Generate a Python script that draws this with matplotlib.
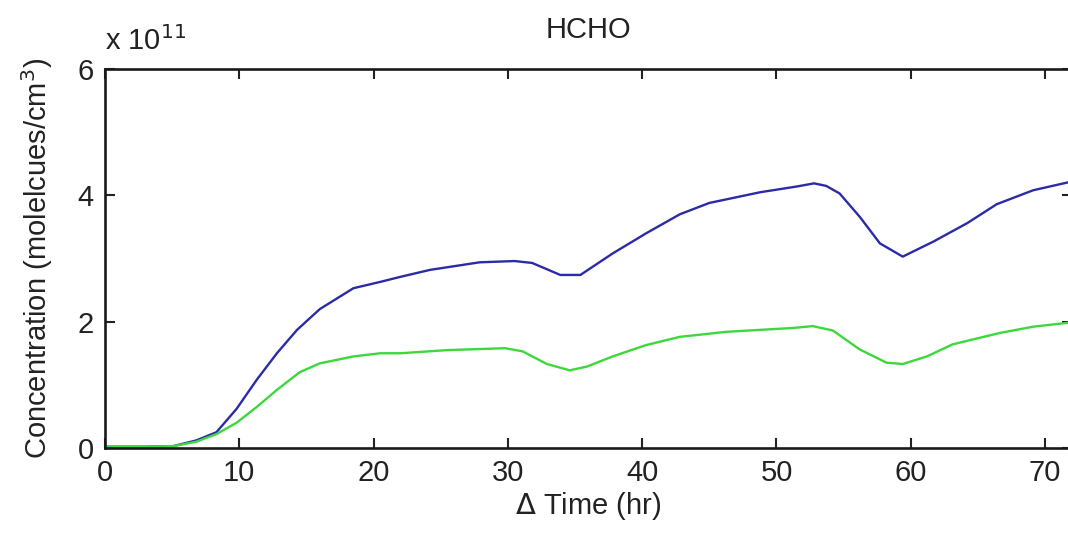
import numpy as np
import matplotlib.pyplot as plt

plt.rcParams['font.family'] = ['Liberation Sans', 'DejaVu Sans']

# time (hr) and HCHO concentration (x 1e11 molecules/cm3)
t_blue = [0, 3, 5.1, 6.8, 8.3, 9.8, 11.3, 12.8, 14.3, 16.0, 18.5, 20.5, 22.0,
          24.2, 27.9, 30.5, 31.8, 32.8, 33.9, 35.4, 37.8, 40.3, 42.8, 45.0, 48.8, 51.5,
          52.8, 53.7, 54.7, 56.2, 57.7, 59.4, 61.7, 64.2, 66.4, 69.1, 72]
c_blue = [0.02, 0.02, 0.03, 0.12, 0.25, 0.62, 1.08, 1.5, 1.87, 2.2, 2.53, 2.63, 2.71,
          2.82, 2.94, 2.96, 2.93, 2.84, 2.74, 2.74, 3.08, 3.4, 3.7, 3.88, 4.05, 4.14,
          4.19, 4.15, 4.03, 3.66, 3.24, 3.03, 3.27, 3.56, 3.86, 4.08, 4.22]

t_green = [0, 3, 5.1, 6.8, 8.3, 9.8, 11.3, 12.8, 14.5, 16.0, 18.5, 20.5, 22.0,
           25.5, 29.8, 31.1, 32.9, 34.6, 35.9, 37.8, 40.3, 42.8, 46.3, 51.2,
           52.7, 54.2, 56.2, 58.2, 59.4, 61.2, 63.1, 66.6, 69.1, 72]
c_green = [0.02, 0.02, 0.03, 0.1, 0.22, 0.4, 0.65, 0.92, 1.2, 1.34, 1.45, 1.5, 1.5,
           1.55, 1.58, 1.53, 1.33, 1.23, 1.29, 1.45, 1.63, 1.76, 1.84, 1.9,
           1.93, 1.86, 1.56, 1.35, 1.33, 1.45, 1.64, 1.82, 1.92, 1.99]

fig = plt.figure(figsize=(10.68, 5.48), dpi=100, facecolor='white')
ax = fig.add_axes([0.0983, 0.1825, 0.9054, 0.6915])

ax.plot(t_blue, c_blue, color='#2b2ba8', lw=1.7)
ax.plot(t_green, c_green, color='#3cd83c', lw=1.7)

ax.set_xlim(0, 72)
ax.set_ylim(0, 6)
ax.set_xticks(np.arange(0, 71, 10))
ax.set_yticks([0, 2, 4, 6])

ax.tick_params(direction='in', length=7, width=1.5, top=True, right=True,
               labelsize=21, pad=8, colors='#222222')
for s in ax.spines.values():
    s.set_linewidth(1.9)
    s.set_color('#1a1a1a')

ax.set_title('HCHO', fontsize=21, pad=22, color='#222222')
ax.set_xlabel(r'$\Delta$ Time (hr)', fontsize=21, labelpad=2, color='#222222')
ax.set_ylabel(r'Concentration (molelcues/cm$^3$)', fontsize=21, labelpad=16,
              color='#222222')
ax.text(0.0, 1.035, r'x 10$^{11}$', transform=ax.transAxes, fontsize=21,
        ha='left', va='bottom', color='#222222')

fig.savefig('out.png', dpi=100)
